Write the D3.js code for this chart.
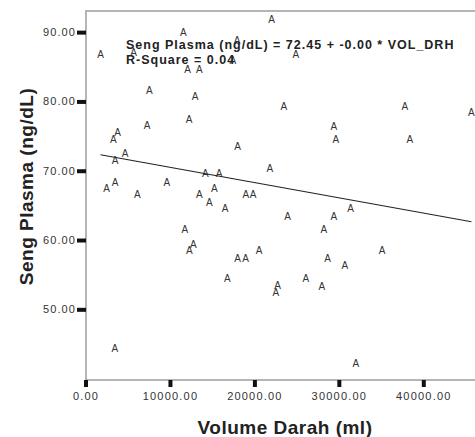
<!DOCTYPE html>
<html><head><meta charset="utf-8">
<script src="https://cdn.jsdelivr.net/npm/d3@7"></script>
<style>body{margin:0;background:#fff}svg{display:block}</style>
</head><body>
<script>
// Volume Darah (ml) for each observation
const volumeDarah = [1775, 11574, 5680, 12095, 13467, 7574, 12982, 7278, 12272, 3787,
  3290, 4675, 3515, 14201, 2509, 3491, 9645, 6130, 13467, 15266,
  22036, 17964, 24911, 23491, 29408, 29645, 18012, 21834, 15822, 18994,
  19858, 37811, 45704, 38402, 14675, 11775, 12757, 12284, 3467, 16544,
  23929, 29408, 28225, 20568, 18012, 18959, 28663, 30710, 16781, 22746,
  22544, 26095, 27988, 31385, 35124, 32012, 17456];
// Seng Plasma (ng/dL) for each observation
const sengPlasma = [86.71, 89.96, 87.06, 84.64, 84.64, 81.59, 80.68, 76.48, 77.39, 75.55,
  74.49, 72.42, 71.52, 69.62, 67.39, 68.30, 68.30, 66.62, 66.62, 67.49,
  91.88, 88.84, 86.71, 79.32, 76.42, 74.49, 73.55, 70.39, 69.57, 66.62,
  66.62, 79.32, 78.45, 74.49, 65.46, 61.45, 59.38, 58.51, 44.30, 64.59,
  63.38, 63.38, 61.45, 58.55, 57.35, 57.35, 57.35, 56.38, 54.45, 53.38,
  52.36, 54.45, 53.33, 64.49, 58.55, 42.13, 85.94];
const xTickValues = [0, 10000, 20000, 30000, 40000];
const xTickLabels = ["0.00", "10000.00", "20000.00", "30000.00", "40000.00"];
const yTickValues = [50, 60, 70, 80, 90];
const yTickLabels = ["50.00", "60.00", "70.00", "80.00", "90.00"];
const fitIntercept = 72.70;
const fitSlope = -0.00022;
const equationLines = ["Seng Plasma (ng/dL) = 72.45 + -0.00 * VOL_DRH", "R-Square = 0.04"];
const markerLabel = "A";
const xTitle = "Volume Darah (ml)";
const yTitle = "Seng Plasma (ng/dL)";

const W = 475, H = 437;
const FONT = "'Liberation Sans', Arial, Helvetica, sans-serif";
const svg = d3.select("body").append("svg").attr("width", W).attr("height", H)
  .style("font-family", FONT);

const x = d3.scaleLinear().domain([0, 46360]).range([85.5, 477]);
const y = d3.scaleLinear().domain([39.8, 93.05]).range([380, 11]);

// plot frame
svg.append("rect").attr("x", 86).attr("y", 11).attr("width", 400).attr("height", 369)
  .attr("fill", "none").attr("stroke", "#a3a3a3").attr("stroke-width", 1.6);

// y axis
const yAxis = d3.axisLeft(y).tickValues(yTickValues)
  .tickFormat((d, i) => yTickLabels[i]).tickSize(9).tickPadding(1);
const gy = svg.append("g").attr("transform", "translate(86,0)").call(yAxis);
gy.select(".domain").remove();
gy.selectAll(".tick line").attr("stroke", "#111").attr("stroke-width", 4);
gy.selectAll(".tick text").attr("fill", "#333").style("font-size", "11px")
  .style("letter-spacing", "1.1px").style("font-family", FONT);

// x axis
const xAxis = d3.axisBottom(x).tickValues(xTickValues)
  .tickFormat((d, i) => xTickLabels[i]).tickSize(7).tickPadding(5.2);
const gx = svg.append("g").attr("transform", "translate(0,380)").call(xAxis);
gx.select(".domain").remove();
gx.selectAll(".tick line").attr("stroke", "#111").attr("stroke-width", 4);
gx.selectAll(".tick text").attr("fill", "#333").style("font-size", "11px")
  .style("letter-spacing", "1.2px").style("font-family", FONT);

// markers
const pts = volumeDarah.map((v, i) => ({v, s: sengPlasma[i]}));
svg.append("g").selectAll("text").data(pts).join("text")
  .attr("x", d => x(d.v)).attr("y", d => y(d.s) + 3.5)
  .attr("text-anchor", "middle").attr("fill", "#333")
  .style("font-size", "10px").text(markerLabel);

// fit line
const xmin = d3.min(volumeDarah), xmax = d3.max(volumeDarah);
svg.append("path")
  .datum([xmin, xmax])
  .attr("d", d3.line().x(d => x(d)).y(d => y(fitIntercept + fitSlope * d)))
  .attr("fill", "none").attr("stroke", "#222").attr("stroke-width", 1.1);

// equation text
svg.append("g").selectAll("text").data(equationLines).join("text")
  .attr("x", 126).attr("y", (d, i) => 48.5 + i * 15.5)
  .attr("fill", "#222").style("font-weight", "bold").style("font-size", "12.5px")
  .style("letter-spacing", "1px").text(d => d);

// axis titles
svg.append("text").attr("x", 285).attr("y", 434).attr("text-anchor", "middle")
  .attr("fill", "#222").style("font-weight", "bold").style("font-size", "19px")
  .style("letter-spacing", "0.5px").text(xTitle);
svg.append("text").attr("transform", "translate(32.5,186.5) rotate(-90)")
  .attr("text-anchor", "middle").attr("fill", "#222").style("font-weight", "bold")
  .style("font-size", "19px").style("letter-spacing", "0.5px").text(yTitle);
</script>
</body></html>
